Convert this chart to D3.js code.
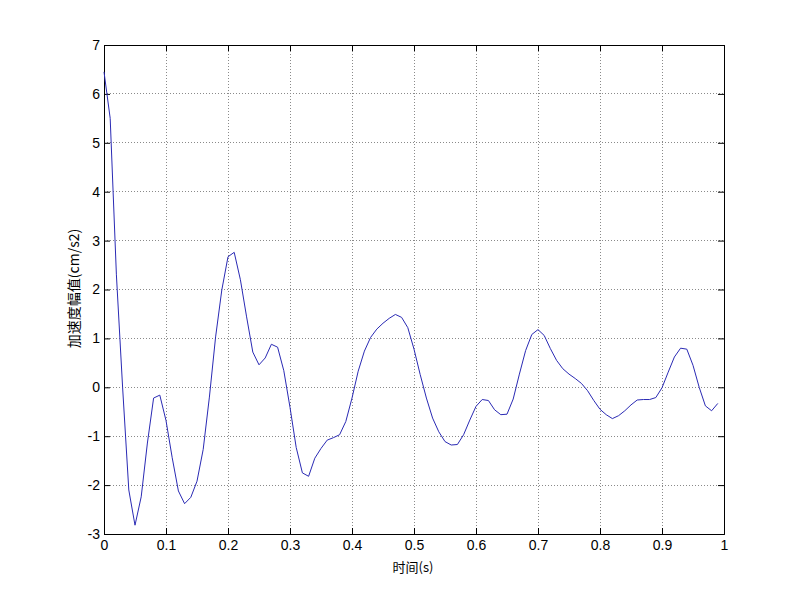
<!DOCTYPE html>
<html><head><meta charset="utf-8">
<script src="https://cdn.jsdelivr.net/npm/d3@7"></script>
<style>body{margin:0;background:#fff}svg{display:block}text{font-family:"Liberation Sans",Arial,sans-serif}</style>
</head><body><svg id="c" width="800" height="599"></svg>
<script>
const times = d3.range(100).map(i => i / 100);
const accel = [6.45,5.5,2.3,0.0,-2.1,-2.82,-2.24,-1.14,-0.22,-0.16,
  -0.68,-1.44,-2.12,-2.38,-2.25,-1.92,-1.27,-0.2,1.03,1.99,
  2.67,2.76,2.2,1.44,0.72,0.46,0.6,0.88,0.82,0.34,
  -0.41,-1.23,-1.75,-1.82,-1.45,-1.25,-1.08,-1.03,-0.97,-0.7,
  -0.22,0.33,0.74,1.02,1.19,1.31,1.41,1.49,1.43,1.22,
  0.78,0.26,-0.22,-0.63,-0.91,-1.11,-1.18,-1.17,-0.97,-0.67,
  -0.39,-0.25,-0.27,-0.46,-0.56,-0.55,-0.24,0.27,0.75,1.08,
  1.18,1.06,0.79,0.55,0.38,0.27,0.18,0.08,-0.07,-0.27,
  -0.45,-0.56,-0.64,-0.58,-0.48,-0.36,-0.26,-0.25,-0.25,-0.21,
  -0.01,0.31,0.62,0.8,0.78,0.45,0.0,-0.38,-0.48,-0.33];
const xTicks = [0,0.1,0.2,0.3,0.4,0.5,0.6,0.7,0.8,0.9,1];
const yTicks = [-3,-2,-1,0,1,2,3,4,5,6,7];
const xLabel = "时间(s)";
const yLabel = "加速度幅值(cm/s2)";

const L = 104, R = 724, T = 45, B = 534;
const svg = d3.select("#c");
const x = d3.scaleLinear().domain([0,1]).range([L,R]);
const y = d3.scaleLinear().domain([-3,7]).range([B,T]);

// grid
const g = svg.append("g");
g.selectAll(".gx").data(xTicks.slice(1,-1)).join("line")
  .attr("x1", d => x(d)).attr("x2", d => x(d)).attr("y1", T).attr("y2", B)
  .attr("stroke", "#8a8a8a").attr("stroke-dasharray", "1,2").attr("shape-rendering","crispEdges");
g.selectAll(".gy").data(yTicks.slice(1,-1)).join("line")
  .attr("y1", d => y(d)).attr("y2", d => y(d)).attr("x1", L).attr("x2", R)
  .attr("stroke", "#8a8a8a").attr("stroke-dasharray", "1,2").attr("shape-rendering","crispEdges");

// axes
const fmt = d => String(d);
const ax = svg.append("g").attr("transform", `translate(0,${B})`)
  .call(d3.axisBottom(x).tickValues(xTicks).tickFormat(fmt).tickSize(-6).tickPadding(6));
const axT = svg.append("g").attr("transform", `translate(0,${T})`)
  .call(d3.axisTop(x).tickValues(xTicks).tickFormat("").tickSize(-6));
const ay = svg.append("g").attr("transform", `translate(${L},0)`)
  .call(d3.axisLeft(y).tickValues(yTicks).tickFormat(fmt).tickSize(-6).tickPadding(4));
const ayR = svg.append("g").attr("transform", `translate(${R},0)`)
  .call(d3.axisRight(y).tickValues(yTicks).tickFormat("").tickSize(-6));
[ax, axT, ay, ayR].forEach(a => {
  a.select(".domain").attr("stroke", "#000");
  a.selectAll(".tick line").attr("stroke", "#000");
  a.selectAll("text").attr("fill", "#000").style("font-size", "14px").style("font-family", '"Liberation Sans",Arial,sans-serif');
});

// line
svg.append("path").datum(times.map((t,i) => [t, accel[i]]))
  .attr("fill", "none").attr("stroke", "#2a2ab4").attr("stroke-width", 1)
  .attr("d", d3.line().x(d => x(d[0])).y(d => y(d[1])));

svg.append("text").attr("x", 413).attr("y", 572).attr("text-anchor", "middle")
  .style("font-size", "13px").style("font-family", '"Noto Sans CJK SC","Liberation Sans",sans-serif').text(xLabel);
svg.append("text").attr("transform", `translate(79,${(T+B)/2 - 1}) rotate(-90)`).attr("text-anchor", "middle")
  .style("font-size", "14px").style("font-family", '"Noto Sans CJK SC","Liberation Sans",sans-serif').text(yLabel);
</script></body></html>
